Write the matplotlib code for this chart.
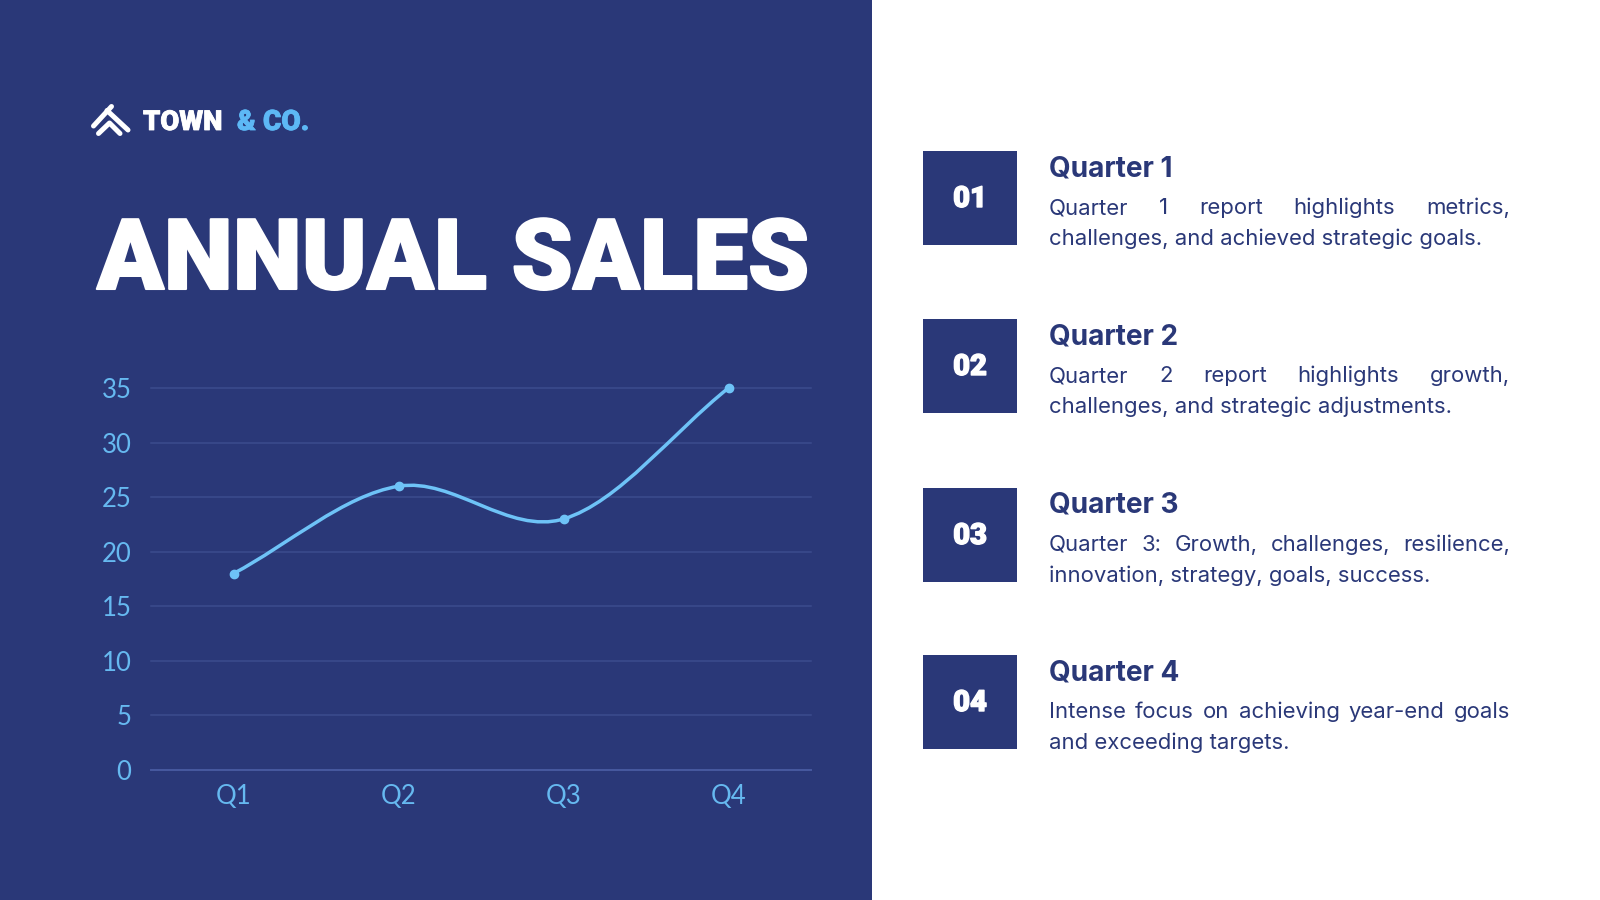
import matplotlib
matplotlib.use('Agg')
import matplotlib.pyplot as plt
from matplotlib.patches import Rectangle, PathPatch
from matplotlib.path import Path
import matplotlib.patheffects as pe
import numpy as np

# ---------------- data ----------------
quarters = ['Q1', 'Q2', 'Q3', 'Q4']
sales = [18, 26, 23, 35]
y_ticks = [0, 5, 10, 15, 20, 25, 30, 35]
numbers = ['01', '02', '03', '04']
headings = ['Quarter 1', 'Quarter 2', 'Quarter 3', 'Quarter 4']
desc_lines = [
    ["Quarter 1 report highlights metrics,", "challenges, and achieved strategic goals."],
    ["Quarter 2 report highlights growth,", "challenges, and strategic adjustments."],
    ["Quarter 3: Growth, challenges, resilience,", "innovation, strategy, goals, success."],
    ["Intense focus on achieving year-end goals", "and exceeding targets."],
]
title = "ANNUAL SALES"
brand_a = "TOWN"
brand_b = "& CO."

# ---------------- style ----------------
NAVY = '#2A3878'
LIGHT = '#6EC3F7'
TICK = '#66B9F0'
GRID = '#3C4C8E'
HEAVY = ['Roboto', 'DejaVu Sans']
BODY = ['Inter', 'DejaVu Sans']
THIN = ['Lato', 'DejaVu Sans']

W, H = 1600, 900
fig = plt.figure(figsize=(16, 9), dpi=100)
fig.patch.set_facecolor('white')
bg = fig.add_axes([0, 0, 1, 1])
bg.set_xlim(0, W)
bg.set_ylim(H, 0)
bg.axis('off')
bg.add_patch(Rectangle((0, 0), 872, H, facecolor=NAVY, edgecolor='none', zorder=0))

renderer = fig.canvas.get_renderer()


def width_of(t):
    return t.get_window_extent(renderer=renderer).width


def fit_text(x, y, s, target_w, base_size, stroke=0.0, **kw):
    t = bg.text(x, y, s, fontsize=base_size, **kw)
    w = width_of(t)
    t.set_fontsize(base_size * (target_w - stroke) / w)
    if stroke:
        t.set_path_effects([pe.withStroke(linewidth=stroke, foreground=kw.get('color'))])
    return t


# logo icon
bg.plot([93.5, 111.5], [126, 106.5], color='white', lw=3.6, solid_capstyle='round', zorder=3)
bg.plot([107, 128], [110.5, 130], color='white', lw=3.6, solid_capstyle='round', zorder=3)
bg.plot([98.5, 109.5, 120], [133.5, 123, 133.5], color='white', lw=3.6,
        solid_capstyle='round', solid_joinstyle='round', zorder=3)

fit_text(143, 130, brand_a, 80, 17, stroke=0.6, color='white', family=HEAVY, weight='black',
         va='baseline', ha='left', zorder=3)
fit_text(237, 130, brand_b, 73, 17, stroke=0.6, color='#5DB8F5', family=HEAVY, weight='black',
         va='baseline', ha='left', zorder=3)

# title
fit_text(97, 289, title, 714, 70, stroke=1.5, color='white', family=HEAVY, weight='black',
         va='baseline', ha='left', zorder=3)

# ---------------- chart ----------------
left, right, top, bottom = 151, 811, 388, 770
ax = fig.add_axes([left / W, (H - bottom) / H, (right - left) / W, (bottom - top) / H])
ax.set_facecolor('none')
ax.set_xlim(-0.5, 3.5)
ax.set_ylim(0, 35)
for s in ax.spines.values():
    s.set_visible(False)
ax.set_yticks(y_ticks)
ax.set_xticks(range(len(quarters)))
ax.set_xticklabels(quarters)
ax.tick_params(length=0, labelsize=18.5, labelcolor=TICK)
ax.tick_params(axis='y', pad=14)
ax.tick_params(axis='x', pad=10)
for lab in ax.get_yticklabels() + ax.get_xticklabels():
    lab.set_family(THIN)
    lab.set_fontweight('normal')
    lab.set_color(TICK)
for v in y_ticks:
    ax.axhline(v, color=GRID if v else '#4759A0', lw=1.1 if v else 1.4, zorder=1, clip_on=False)

# smooth line through data points (cubic Bezier, Catmull-Rom tangents)
xs = np.arange(len(sales), dtype=float)
ys = np.asarray(sales, dtype=float)
n = len(xs)
m = np.zeros(n)
m[0] = ys[1] - ys[0]
m[-1] = ys[-1] - ys[-2]
for i in range(1, n - 1):
    m[i] = (ys[i + 1] - ys[i - 1]) / 2
verts = [(xs[0], ys[0])]
codes = [Path.MOVETO]
for i in range(n - 1):
    verts += [(xs[i] + 1 / 3, ys[i] + m[i] / 3),
              (xs[i + 1] - 1 / 3, ys[i + 1] - m[i + 1] / 3),
              (xs[i + 1], ys[i + 1])]
    codes += [Path.CURVE4] * 3
ax.add_patch(PathPatch(Path(verts, codes), facecolor='none', edgecolor=LIGHT, lw=2.5,
                       capstyle='round', zorder=3, clip_on=False))
ax.plot(xs, ys, 'o', color=LIGHT, ms=6, zorder=4, clip_on=False)

# ---------------- right side ----------------
box_tops = [151, 319, 488, 655]
box_x, box_w = 923, 94
text_x, text_r = 1049, 1510

# calibrate body font size
probe = bg.text(0, 0, desc_lines[0][1], fontsize=15, family=BODY)
body_size = 15 * 433 / width_of(probe)
probe.remove()
probe = bg.text(0, 0, headings[0], fontsize=20, family=BODY, weight='bold')
head_size = 20 * 124 / width_of(probe)
probe.remove()


def justified(y, line, justify):
    words = line.split(' ')
    ts = [bg.text(text_x, y, w_, fontsize=body_size, family=BODY, color=NAVY,
                  va='baseline', ha='left') for w_ in words]
    if not justify:
        ts[0].set_text(line)
        for t in ts[1:]:
            t.remove()
        return
    widths = [width_of(t) for t in ts]
    gap = (text_r - text_x - sum(widths)) / (len(words) - 1)
    x = text_x
    for t, w_ in zip(ts, widths):
        t.set_x(x)
        x += w_ + gap


for i, top_y in enumerate(box_tops):
    bg.add_patch(Rectangle((box_x, top_y), box_w, box_w, facecolor=NAVY, edgecolor='none'))
    bg.text(box_x + box_w / 2, top_y + box_w / 2 + 1, numbers[i], color='white',
            fontsize=21, family=HEAVY, weight='black', ha='center', va='center',
            path_effects=[pe.withStroke(linewidth=1.0, foreground='white')])
    bg.text(text_x, top_y + 25, headings[i], color=NAVY, fontsize=head_size,
            family=BODY, weight='bold', va='baseline', ha='left')
    justified(top_y + 63, desc_lines[i][0], True)
    justified(top_y + 94, desc_lines[i][1], False)

fig.savefig('out.png', dpi=100, facecolor='white')
